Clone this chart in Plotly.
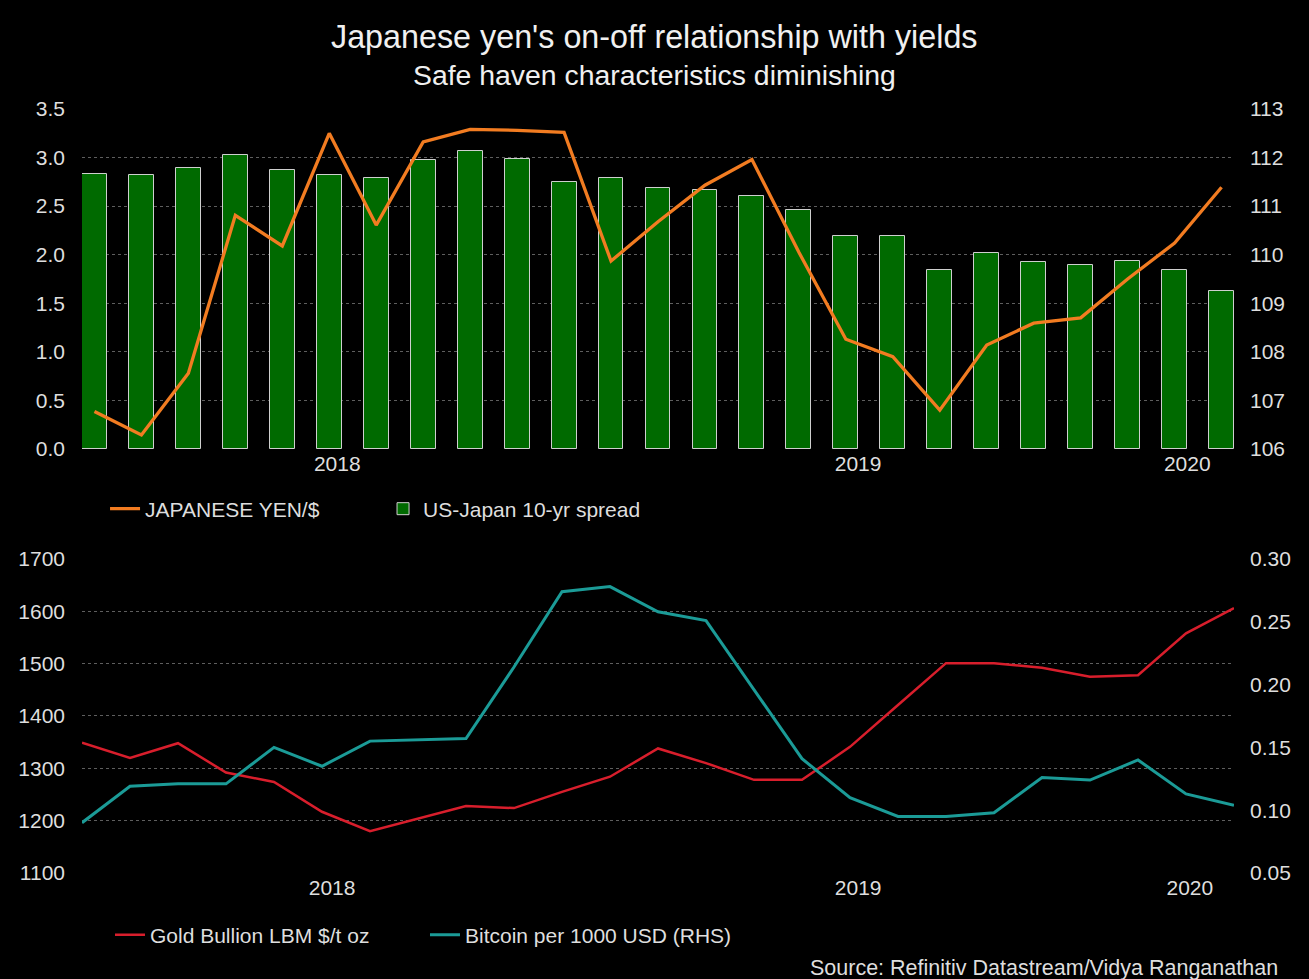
import plotly.graph_objects as go

# ---------------- data ----------------
# 25 monthly observations (index positions along the shared time axis)
idx = list(range(25))

spread_us_japan = [2.83, 2.82, 2.89, 3.03, 2.87, 2.82, 2.79, 2.98, 3.07, 2.99,
                   2.75, 2.79, 2.69, 2.67, 2.60, 2.46, 2.19, 2.19, 1.84, 2.02,
                   1.93, 1.89, 1.94, 1.84, 1.63]

yen_per_usd = [106.77, 106.29, 107.56, 110.81, 110.18, 112.50, 110.61, 112.32,
               112.58, 112.56, 112.52, 109.87, 110.68, 111.43, 111.96, 110.05,
               108.26, 107.90, 106.80, 108.14, 108.59, 108.70, 109.50, 110.24,
               111.39]

gold_usd_oz = [1349, 1320, 1348, 1292, 1274, 1217, 1180, 1204, 1228, 1224,
               1255, 1284, 1338, 1310, 1278, 1278, 1341, 1421, 1501, 1501,
               1492, 1475, 1478, 1558, 1606]

bitcoin_per_1000usd = [0.090, 0.119, 0.121, 0.121, 0.150, 0.135, 0.155, 0.156,
                       0.157, 0.214, 0.274, 0.278, 0.258, 0.251, 0.196, 0.141,
                       0.110, 0.095, 0.095, 0.098, 0.126, 0.124, 0.140, 0.113,
                       0.104]

year_labels = ["2018", "2019", "2020"]
top_year_pos = [5.17, 16.26, 23.27]
bottom_year_pos = [5.21, 16.17, 23.08]

# ---------------- style ----------------
FONT = "Liberation Sans, Arial, sans-serif"
TXT = "#dedede"
GRID = "#5e5e5e"
ORANGE = "#f27c21"
GREEN = "#006a00"
RED = "#d81e2c"
TEAL = "#1b9b97"

fig = go.Figure()

fig.add_trace(go.Bar(
    x=idx, y=spread_us_japan, name="US-Japan 10-yr spread", width=0.53,
    marker=dict(color=GREEN, line=dict(color="#cfcfcf", width=1)),
    xaxis="x", yaxis="y", legend="legend"))
fig.add_trace(go.Scatter(
    x=idx, y=yen_per_usd, name="JAPANESE YEN/$", mode="lines",
    line=dict(color=ORANGE, width=3.3), xaxis="x", yaxis="y2", legend="legend"))

fig.add_trace(go.Scatter(
    x=idx, y=gold_usd_oz, name="Gold Bullion LBM $/t oz", mode="lines",
    line=dict(color=RED, width=2.5), xaxis="x2", yaxis="y3", legend="legend2"))
fig.add_trace(go.Scatter(
    x=idx, y=bitcoin_per_1000usd, name="Bitcoin per 1000 USD (RHS)", mode="lines",
    line=dict(color=TEAL, width=3), xaxis="x2", yaxis="y4", legend="legend2"))

tickfont = dict(family=FONT, size=21, color=TXT)

common_y = dict(showline=False, zeroline=False, ticks="", tickfont=tickfont,
                fixedrange=True)

fig.update_layout(
    width=1309, height=979,
    paper_bgcolor="#000000", plot_bgcolor="#000000",
    margin=dict(l=82, r=75, t=109, b=106),
    bargap=0,
    xaxis=dict(domain=[0, 1], anchor="y", range=[-0.265, 24.265],
               tickvals=top_year_pos, ticktext=year_labels, tickfont=tickfont,
               showgrid=False, zeroline=False, showline=False, ticks=""),
    yaxis=dict(domain=[0.555, 1], range=[0, 3.5], dtick=0.5, tickformat=".1f",
               ticklabelstandoff=16,
               showgrid=True, gridcolor=GRID, griddash="dot", gridwidth=1, **common_y),
    yaxis2=dict(overlaying="y", side="right", anchor="x", range=[106, 113], dtick=1,
                ticklabelstandoff=15, showgrid=False, **common_y),
    xaxis2=dict(domain=[0, 1], anchor="y3", range=[0, 24],
                tickvals=bottom_year_pos, ticktext=year_labels, tickfont=tickfont,
                showgrid=False, zeroline=False, showline=False, ticks=""),
    yaxis3=dict(domain=[0, 0.411], anchor="x2", range=[1100, 1700], dtick=100,
                ticklabelstandoff=16,
                showgrid=True, gridcolor=GRID, griddash="dot", gridwidth=1, **common_y),
    yaxis4=dict(overlaying="y3", side="right", anchor="x2", range=[0.05, 0.30],
                dtick=0.05, tickformat=".2f", ticklabelstandoff=15,
                showgrid=False, **common_y),
    legend=dict(orientation="h", x=0.020, y=0.4764, xanchor="left", yanchor="middle",
                font=dict(family=FONT, size=21, color=TXT), bgcolor="rgba(0,0,0,0)",
                entrywidth=233, entrywidthmode="pixels", traceorder="reversed"),
    legend2=dict(orientation="h", x=0.0243, y=-0.0812, xanchor="left", yanchor="middle",
                 font=dict(family=FONT, size=21, color=TXT), bgcolor="rgba(0,0,0,0)",
                 entrywidth=270, entrywidthmode="pixels"),
    showlegend=True,
    annotations=[
        dict(text="Japanese yen's on-off relationship with yields", xref="paper",
             yref="paper", x=0.497, y=1.094, xanchor="center", yanchor="middle",
             showarrow=False, font=dict(family=FONT, size=32.3, color="#f0f0f0")),
        dict(text="Safe haven characteristics diminishing", xref="paper",
             yref="paper", x=0.497, y=1.0445, xanchor="center", yanchor="middle",
             showarrow=False, font=dict(family=FONT, size=28.4, color="#f0f0f0")),
        dict(text="Source: Refinitiv Datastream/Vidya Ranganathan", xref="paper",
             yref="paper", x=1.040, y=-0.124, xanchor="right", yanchor="middle",
             showarrow=False, font=dict(family=FONT, size=21.5, color=TXT)),
    ],
)

fig.write_html(
    "out.html",
    config={"displayModeBar": False},
    post_script="document.body.style.margin='0';document.body.style.background='#000';",
)
